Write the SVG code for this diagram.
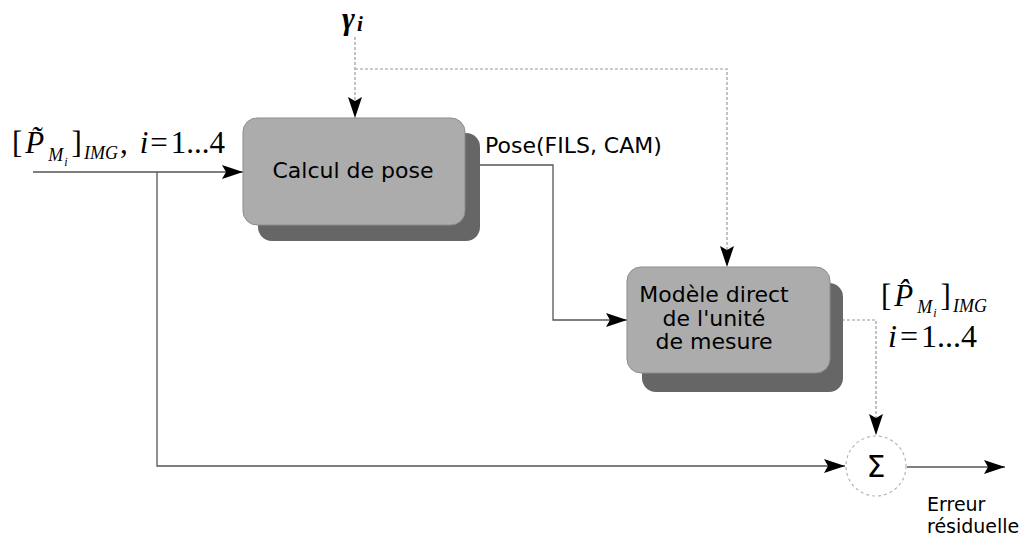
<svg xmlns="http://www.w3.org/2000/svg" width="1035" height="537" viewBox="0 0 1035 537">
<style>
.bg{fill:#ffffff}
.front{fill:#acacac;stroke:#8c8c8c;stroke-width:1}
.shadow{fill:#666666}
.lbl{font-family:"DejaVu Sans",Verdana,sans-serif;fill:#000}
.math{font-family:"Liberation Serif","Times New Roman",serif;fill:#000}
.it{font-style:italic}
.conn{fill:none;stroke:#555;stroke-width:1.3}
.light{fill:none;stroke:#9a9a9a;stroke-width:1.2;stroke-dasharray:3 2}
</style>
<defs>
<marker id="arr" viewBox="0 0 21 14" refX="21" refY="7" markerWidth="21" markerHeight="14" markerUnits="userSpaceOnUse" orient="auto">
<path d="M0,0 L21,7 L0,14 L4,7 Z" fill="#000"/>
</marker>
</defs>
<rect class="bg" x="0" y="0" width="1035" height="537"/>

<g id="connectors">
<path class="conn" d="M33,172 H243" marker-end="url(#arr)"/>
<path class="conn" d="M157,172 V466 H845" marker-end="url(#arr)"/>
<path class="light" d="M355,37 V118" marker-end="url(#arr)"/>
<path class="light" d="M355,69 H727 V267" marker-end="url(#arr)"/>
<path class="conn" d="M480,165 H553 V320 H627" marker-end="url(#arr)"/>
<path class="light" d="M842,320 H876 V435" marker-end="url(#arr)"/>
<path class="conn" d="M907,467 H1005" marker-end="url(#arr)"/>
</g>

<g id="calcul">
<rect class="shadow" x="258" y="133" width="222" height="108" rx="14"/>
<rect class="front" x="243" y="118" width="222" height="107" rx="14"/>
<text class="lbl" x="353" y="178" font-size="22" text-anchor="middle">Calcul de pose</text>
</g>

<g id="modele">
<rect class="shadow" x="642" y="283" width="201" height="109" rx="14"/>
<rect class="front" x="627" y="267" width="203" height="106" rx="14"/>
<text class="lbl" font-size="22" text-anchor="middle"><tspan x="714" y="302">Modèle direct</tspan><tspan x="714" y="326">de l'unité</tspan><tspan x="714" y="349">de mesure</tspan></text>
</g>

<g id="sigma">
<circle cx="876" cy="466" r="30" fill="none" stroke="#b5b5b5" stroke-width="1.2" stroke-dasharray="3 3"/>
<text class="lbl" x="876" y="477" font-size="30" text-anchor="middle">Σ</text>
</g>

<g id="gamma">
<text class="math" x="342" y="29" font-size="31" font-style="italic" font-weight="bold">γ<tspan font-size="21" dy="2" dx="2">i</tspan></text>
</g>

<g id="input-label">
<text class="math" x="12" y="153" font-size="31">[<tspan font-style="italic" dx="3">P&#771;</tspan><tspan font-style="italic" font-size="18" dy="8" dx="4">M</tspan><tspan font-style="italic" font-size="12" dy="5" dx="1">i</tspan><tspan dy="-13" dx="4">]</tspan><tspan font-style="italic" font-size="18" dy="6" dx="2">IMG</tspan><tspan dy="-6" dx="2">,</tspan><tspan font-style="italic" dx="12">i</tspan><tspan dx="2">=</tspan><tspan dx="3">1...4</tspan></text>
</g>

<g id="pose-label">
<text class="lbl" x="485" y="153" font-size="22">Pose(FILS, CAM)</text>
</g>

<g id="output-label">
<text class="math" x="881" y="306" font-size="31">[<tspan font-style="italic" dx="3">P&#770;</tspan><tspan font-style="italic" font-size="18" dy="7" dx="4">M</tspan><tspan font-style="italic" font-size="12" dy="4" dx="1">i</tspan><tspan dy="-11" dx="4">]</tspan><tspan font-style="italic" font-size="18" dy="6" dx="2">IMG</tspan></text>
<text class="math" x="888" y="347" font-size="32"><tspan font-style="italic">i</tspan><tspan dx="3">=</tspan><tspan dx="3">1...4</tspan></text>
</g>

<g id="erreur-label">
<text class="lbl" font-size="19"><tspan x="927" y="511">Erreur</tspan><tspan x="927" y="533">résiduelle</tspan></text>
</g>
</svg>
